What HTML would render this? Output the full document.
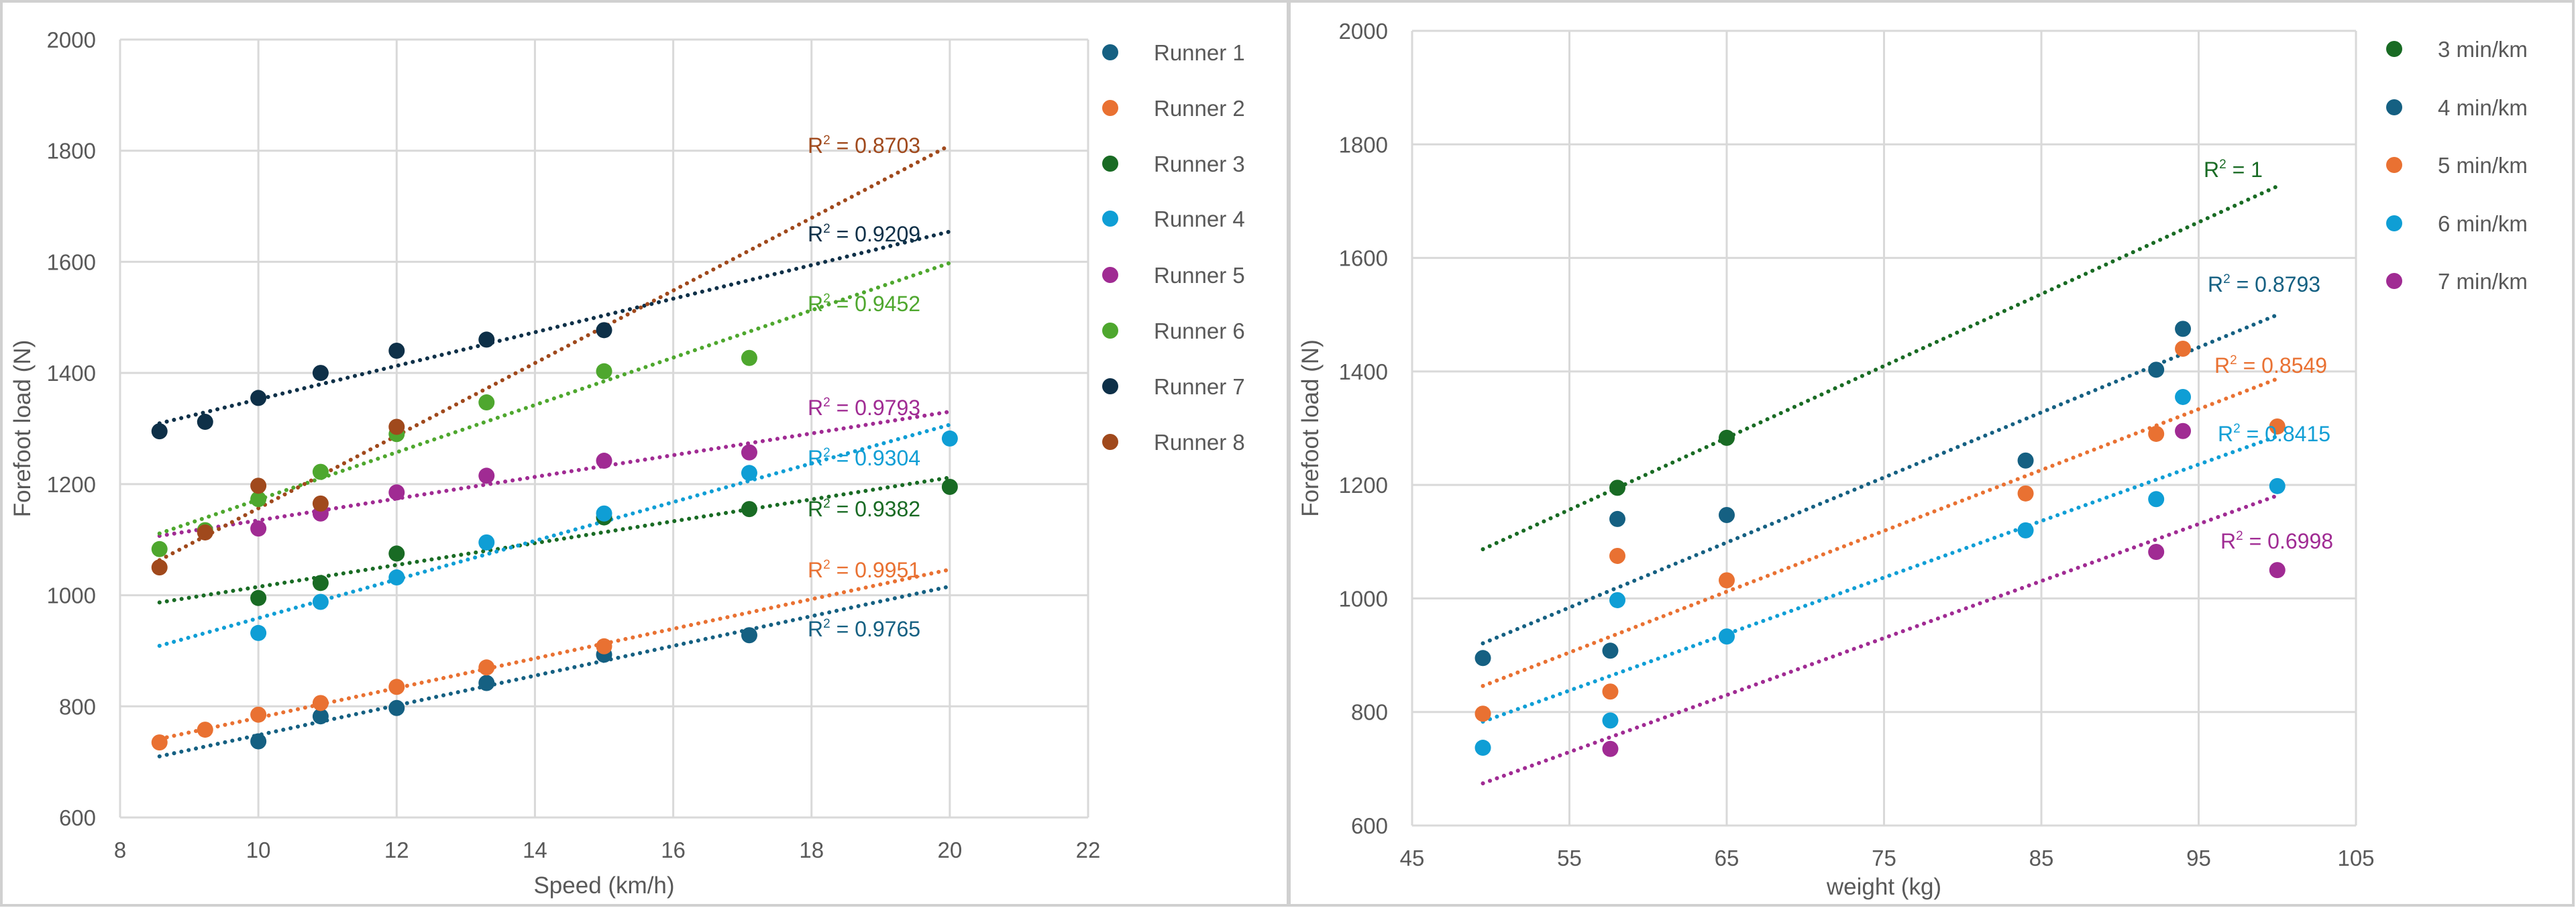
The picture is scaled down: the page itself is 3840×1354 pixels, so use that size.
<!DOCTYPE html>
<html><head><meta charset="utf-8"><style>
html,body{margin:0;padding:0;background:#fff}
svg{display:block;font-family:"Liberation Sans",sans-serif}
</style></head><body>
<svg id="chart" width="3840" height="1354" viewBox="0 0 3840 1354" xmlns="http://www.w3.org/2000/svg">
<rect x="2" y="2" width="1918" height="1348" fill="#fff" stroke="#d0d0d0" stroke-width="4"/>
<rect x="1922" y="2" width="1914" height="1348" fill="#fff" stroke="#d0d0d0" stroke-width="4"/>
<g id="left"></g>
<g id="right"></g>
</svg>
<script>
// ---- Left chart data (speed vs forefoot load) ----
const runnerNames = ["Runner 1","Runner 2","Runner 3","Runner 4","Runner 5","Runner 6","Runner 7","Runner 8"];
const runnerColors = ["#156082","#E97132","#196B24","#0F9ED5","#A02B93","#4EA72E","#0E3048","#A0491C"];
const r1Speed = [10,10.9,12,13.3,15,17.1];
const r1Load = [737,782,797,842,893,928];
const r2Speed = [8.57,9.23,10,10.9,12,13.3,15];
const r2Load = [735,758,785,806,835,870,908];
const r3Speed = [10,10.9,12,15,17.1,20];
const r3Load = [995,1022,1075,1140,1155,1195];
const r4Speed = [10,10.9,12,13.3,15,17.1,20];
const r4Load = [932,988,1032,1095,1147,1220,1282];
const r5Speed = [10,10.9,12,13.3,15,17.1];
const r5Load = [1120,1147,1185,1215,1242,1257];
const r6Speed = [8.57,9.23,10,10.9,12,13.3,15,17.1];
const r6Load = [1083,1117,1173,1222,1290,1347,1403,1427];
const r7Speed = [8.57,9.23,10,10.9,12,13.3,15];
const r7Load = [1295,1312,1355,1400,1440,1460,1477];
const r8Speed = [8.57,9.23,10,10.9,12];
const r8Load = [1050,1113,1197,1165,1303];
const runnerR2 = ["0.9765","0.9951","0.9382","0.9304","0.9793","0.9452","0.9209","0.8703"];
const speedTicks = [8,10,12,14,16,18,20,22];
const loadTicks = [600,800,1000,1200,1400,1600,1800,2000];

// ---- Right chart data (weight vs forefoot load) ----
const paceNames = ["3 min/km","4 min/km","5 min/km","6 min/km","7 min/km"];
const paceColors = ["#196B24","#156082","#E97132","#0F9ED5","#A02B93"];
const p3Weight = [58.05,65];
const p3Load = [1195,1283];
const p4Weight = [49.5,57.6,58.05,65,84,92.3,94];
const p4Load = [895,908,1140,1147,1243,1403,1475];
const p5Weight = [49.5,57.6,58.05,65,84,92.3,94,100];
const p5Load = [797,836,1075,1032,1185,1290,1440,1303];
const p6Weight = [49.5,57.6,58.05,65,84,92.3,94,100];
const p6Load = [737,785,997,933,1120,1175,1355,1198];
const p7Weight = [57.6,92.3,94,100];
const p7Load = [735,1082,1295,1050];
const paceR2 = ["1","0.8793","0.8549","0.8415","0.6998"];
const weightTicks = [45,55,65,75,85,95,105];

const NS="http://www.w3.org/2000/svg";
function mk(parent,tag,attrs){const e=document.createElementNS(NS,tag);for(const k in attrs)e.setAttribute(k,attrs[k]);parent.appendChild(e);return e;}
function regress(xs,ys){const n=xs.length;let sx=0,sy=0,sxx=0,sxy=0;for(let i=0;i<n;i++){sx+=xs[i];sy+=ys[i];sxx+=xs[i]*xs[i];sxy+=xs[i]*ys[i];}const d=n*sxx-sx*sx;const m=d?(n*sxy-sx*sy)/d:0;return {m:m,b:(sy-m*sx)/n};}

function drawChart(g,cfg){
  const xS=v=>cfg.x0+(v-cfg.xmin)/(cfg.xmax-cfg.xmin)*(cfg.x1-cfg.x0);
  const yS=v=>cfg.y1-(v-cfg.ymin)/(cfg.ymax-cfg.ymin)*(cfg.y1-cfg.y0);
  cfg.yticks.forEach(t=>{
    const l=mk(g,'line',{x1:cfg.x0,x2:cfg.x1,y1:yS(t),y2:yS(t),stroke:'#d9d9d9','stroke-width':3});
    
    
    const tx=mk(g,'text',{x:cfg.x0-36,y:yS(t)+12,'text-anchor':'end','font-size':33,fill:'#595959'});
    tx.textContent=t;
    
    
  });
  cfg.xticks.forEach(t=>{
    const l=mk(g,'line',{x1:xS(t),x2:xS(t),y1:cfg.y0,y2:cfg.y1,stroke:'#d9d9d9','stroke-width':3});
    
    
    const tx=mk(g,'text',{x:xS(t),y:cfg.y1+60,'text-anchor':'middle','font-size':33,fill:'#595959'});
    tx.textContent=t;
    
    
  });
  const xt=mk(g,'text',{x:(cfg.x0+cfg.x1)/2,y:cfg.xtitleY,'text-anchor':'middle','font-size':35,fill:'#595959'});
  xt.textContent=cfg.xtitle;
  
  
  const yt=mk(g,'text',{x:0,y:0,'text-anchor':'middle','font-size':35,fill:'#595959',transform:`translate(${cfg.ytitleX},${(cfg.y0+cfg.y1)/2}) rotate(-90)`});
  yt.textContent='Forefoot load (N)';
  
  
  cfg.series.forEach((s,i)=>{
    const fit=regress(s.x,s.y);
    const tl=mk(g,'line',{x1:xS(cfg.tx0),y1:yS(fit.m*cfg.tx0+fit.b),x2:xS(cfg.tx1),y2:yS(fit.m*cfg.tx1+fit.b),stroke:s.color,'stroke-width':6,'stroke-dasharray':'0.1 11','stroke-linecap':'round'});
    
    
  });
  cfg.series.forEach((s,i)=>{
    s.x.forEach((v,j)=>{
      const c=mk(g,'circle',{cx:xS(v),cy:yS(s.y[j]),r:12,fill:s.color});
      
      
    });
  });
  cfg.series.forEach((s,i)=>{
    const t=mk(g,'text',{x:cfg.lblX[i],y:cfg.lblY[i]+12,'font-size':32,fill:s.color});
    t.innerHTML='R<tspan dy="-13" font-size="19">2</tspan><tspan dy="13"> = '+s.r2+'</tspan>';
    
    
    const m=mk(g,'circle',{cx:cfg.legX,cy:cfg.legY[i],r:12,fill:s.color});
    
    
    const lt=mk(g,'text',{x:cfg.legX+65,y:cfg.legY[i]+12,'font-size':33,fill:'#595959'});
    lt.textContent=s.name;
    
    
  });
}

const lxs=[r1Speed,r2Speed,r3Speed,r4Speed,r5Speed,r6Speed,r7Speed,r8Speed];
const lys=[r1Load,r2Load,r3Load,r4Load,r5Load,r6Load,r7Load,r8Load];
drawChart(document.getElementById('left'),{
  x0:179,x1:1622,y0:59,y1:1219,xmin:8,xmax:22,ymin:600,ymax:2000,
  xticks:speedTicks,yticks:loadTicks,xtitle:'Speed (km/h)',xtitleY:1332,ytitleX:45,
  tx0:8.57,tx1:20,
  series:runnerNames.map((n,i)=>({name:n,color:runnerColors[i],x:lxs[i],y:lys[i],r2:runnerR2[i]})),
  lblX:[1204,1204,1204,1204,1204,1204,1204,1204],
  lblY:[937,849,758,682,607,452,348,216],
  legX:1655,legY:[78,161,244,326,410,493,576,659]
});
const rxs=[p3Weight,p4Weight,p5Weight,p6Weight,p7Weight];
const rys=[p3Load,p4Load,p5Load,p6Load,p7Load];
drawChart(document.getElementById('right'),{
  x0:2105,x1:3512,y0:46,y1:1231,xmin:45,xmax:105,ymin:600,ymax:2000,
  xticks:weightTicks,yticks:loadTicks,xtitle:'weight (kg)',xtitleY:1334,ytitleX:1965,
  tx0:49.5,tx1:100,
  series:paceNames.map((n,i)=>({name:n,color:paceColors[i],x:rxs[i],y:rys[i],r2:paceR2[i]})),
  lblX:[3285,3291,3301,3306,3310],
  lblY:[252,423,544,646,806],
  legX:3569,legY:[73,160,246,333,419]
});
</script>
</body></html>
